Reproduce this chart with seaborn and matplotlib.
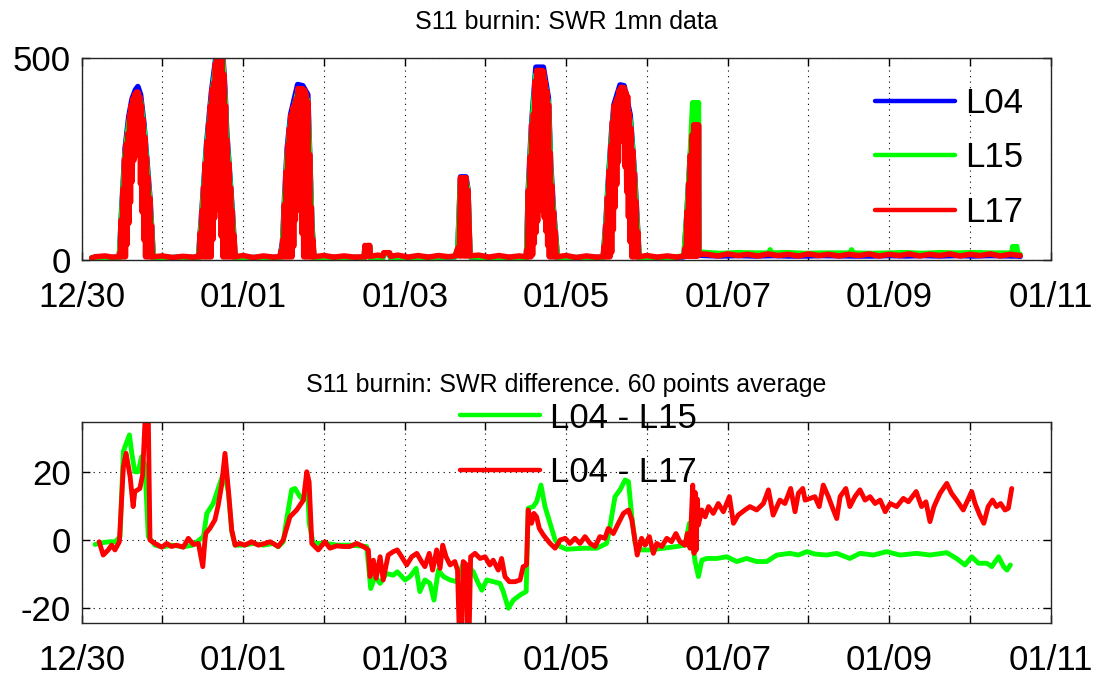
import matplotlib
matplotlib.use("Agg")
import matplotlib.pyplot as plt
import seaborn as sns

# ---------------- data: (hours since 12/30 00:00, value) ----------------
L04_pts = [(3.0, 5), (4.0, 6), (7.0, 6), (11.2, 6),
           (11.9, 124), (12.9, 275), (14.0, 355), (15.0, 400), (16.0, 422), (16.7, 430), (17.5, 410),
           (18.5, 338), (19.5, 235), (20.3, 152), (21.3, 6),
           (25.0, 6), (30.0, 6),
           (34.7, 6), (35.7, 118), (37.1, 285), (38.6, 418), (40.1, 515), (41.9, 515), (42.6, 418),
           (43.1, 318), (44.8, 118), (45.6, 6),
           (50.0, 6), (55.0, 6),
           (58.9, 6), (59.7, 44), (60.4, 170), (61.1, 278), (62.1, 360), (64.2, 435), (65.7, 432),
           (67.2, 410), (68.4, 93), (69.0, 6),
           (75.0, 6), (80.0, 6), (84.0, 6), (84.2, 34), (85.6, 34), (85.8, 6), (89.5, 6), (89.8, 16),
           (91.5, 16), (91.8, 6), (100.0, 6), (105.0, 7), (111.0, 8), (111.8, 28), (112.6, 206),
           (114.2, 206), (114.8, 175), (115.4, 8), (120.0, 6), (126.0, 6),
           (132.2, 6), (132.7, 168), (133.7, 335), (135.0, 478), (137.2, 478), (138.7, 402),
           (139.4, 235), (140.2, 127), (141.4, 6),
           (145.0, 6), (150.0, 6),
           (155.0, 6), (155.8, 94), (156.5, 194), (157.5, 318), (158.2, 385), (160.0, 434),
           (161.2, 432), (163.0, 360), (163.6, 293), (164.4, 202), (165.1, 94), (165.7, 6),
           (170.0, 6), (175.0, 6), (179.0, 8), (179.8, 105), (180.8, 248), (181.6, 336), (183.3, 336),
           (183.4, 12), (186.0, 11), (190.0, 10), (195.0, 11), (200.0, 10), (205.5, 11), (210.0, 10),
           (215.0, 10), (220.0, 11), (229.5, 10), (235.0, 10), (240.0, 11), (245.0, 10), (250.0, 11),
           (255.0, 10), (260.0, 11), (265.0, 10), (270.0, 11), (276.5, 10), (278.1, 10), (278.9, 9)]

L15_pts = [(3.0, 5), (4.0, 6), (7.0, 6), (11.2, 6),
           (11.9, 115), (12.9, 262), (14.0, 340), (15.0, 385), (16.0, 405), (16.7, 410), (17.5, 395),
           (18.5, 325), (19.5, 222), (20.3, 140), (21.3, 6),
           (25.0, 6), (30.0, 6),
           (34.7, 6), (35.7, 108), (37.1, 272), (38.6, 400), (40.1, 500), (41.9, 500), (42.6, 400),
           (43.1, 305), (44.8, 108), (45.6, 6),
           (50.0, 6), (55.0, 6),
           (58.9, 6), (59.7, 36), (60.4, 155), (61.1, 262), (62.1, 345), (64.2, 415), (65.7, 415),
           (67.2, 395), (68.4, 85), (69.0, 6),
           (75.0, 6), (80.0, 6), (84.0, 6), (84.2, 34), (85.6, 34), (85.8, 6), (89.5, 6), (89.8, 16),
           (91.5, 16), (91.8, 6), (100.0, 6), (105.0, 7), (111.0, 8), (111.8, 28), (112.6, 200),
           (114.2, 200), (114.8, 170), (115.4, 8), (120.0, 6), (126.0, 6),
           (132.2, 6), (132.7, 155), (133.7, 320), (135.0, 460), (137.2, 460), (138.7, 388),
           (139.4, 222), (140.2, 115), (141.4, 6),
           (145.0, 6), (150.0, 6),
           (155.0, 6), (155.8, 85), (156.5, 182), (157.5, 305), (158.2, 372), (160.0, 420),
           (161.2, 420), (163.0, 345), (163.6, 282), (164.4, 190), (165.1, 85), (165.7, 6),
           (170.0, 6), (175.0, 6), (179.0, 10), (179.8, 105), (180.8, 248), (181.6, 390), (181.8, 340),
           (182.0, 390), (182.2, 340), (182.4, 390), (182.6, 340), (182.8, 390), (183.0, 340),
           (183.3, 390), (183.4, 20),
           (186.0, 18), (190.0, 16), (195.0, 18), (200.0, 17), (204.4, 17), (204.6, 25), (204.9, 17),
           (210.0, 18), (215.0, 16), (220.0, 17), (228.6, 17), (228.8, 25), (229.1, 17), (235.0, 16),
           (240.0, 17), (245.0, 18), (250.0, 16), (255.0, 18), (260.0, 17), (265.0, 18), (270.0, 17),
           (276.5, 17), (276.7, 33), (277.9, 33), (278.1, 16), (278.9, 14)]

L17_pts = [(3.0, 5), (4.0, 8), (7.0, 10), (9.0, 7),
           # day 12/30 hump
           (11.0, 8), (11.25, 16), (11.5, 8), (11.75, 99), (12.0, 8), (12.25, 176), (12.5, 8),
           (12.75, 250), (13.0, 8), (13.25, 288), (13.5, 39), (13.75, 314), (14.0, 91), (14.25, 361),
           (14.5, 143), (14.75, 384), (15.0, 195), (15.25, 400), (15.5, 247), (15.75, 410),
           (16.0, 299), (16.25, 416), (16.5, 328), (16.75, 416), (17.0, 259), (17.25, 405),
           (17.5, 189), (17.75, 383), (18.0, 119), (18.25, 348), (18.5, 50), (18.75, 305),
           (19.0, 8), (19.25, 255), (19.5, 8), (19.75, 205), (20.0, 8), (20.25, 154), (20.5, 8),
           (20.75, 86), (21.0, 8), (21.3, 8),
           (24.0, 10), (27.0, 6), (30.0, 9), (33.0, 7),
           # day 12/31 hump
           (34.5, 8), (34.75, 13), (35.0, 8), (35.25, 67), (35.5, 8), (35.75, 122), (36.0, 8),
           (36.25, 181), (36.5, 8), (36.75, 240), (37.0, 8), (37.25, 294), (37.5, 8), (37.75, 338),
           (38.0, 8), (38.25, 382), (38.5, 8), (38.75, 423), (39.0, 51), (39.25, 439), (39.5, 104),
           (39.75, 487), (40.0, 158), (40.25, 510), (40.5, 187), (40.75, 510), (41.0, 123),
           (41.25, 510), (41.5, 59), (41.75, 510), (42.0, 8), (42.25, 461), (42.5, 8), (42.75, 383),
           (43.0, 8), (43.25, 297), (43.5, 8), (43.75, 239), (44.0, 8), (44.25, 180), (44.5, 8),
           (44.75, 122), (45.0, 8), (45.25, 62), (45.6, 8),
           (48.0, 11), (51.0, 6), (54.0, 10), (57.0, 7),
           # day 01/01 hump
           (58.5, 8), (58.75, 8), (59.0, 8), (59.25, 22), (59.5, 8), (59.75, 50), (60.0, 8),
           (60.25, 138), (60.5, 8), (60.75, 219), (61.0, 8), (61.25, 285), (61.5, 8), (61.75, 326),
           (62.0, 8), (62.25, 360), (62.5, 8), (62.75, 377), (63.0, 34), (63.25, 385), (63.5, 99),
           (63.75, 400), (64.0, 164), (64.25, 425), (64.5, 180), (64.75, 425), (65.0, 122),
           (65.25, 425), (65.5, 66), (65.75, 424), (66.0, 8), (66.25, 421), (66.5, 8), (66.75, 411),
           (67.0, 8), (67.25, 392), (67.5, 8), (67.75, 262), (68.0, 8), (68.25, 131), (68.5, 8),
           (68.75, 50), (69.0, 8),
           (72.0, 11), (75.0, 7), (78.0, 10), (81.0, 7), (84.0, 8), (84.2, 36), (84.6, 8), (85.0, 36),
           (85.6, 36), (85.8, 9), (88.0, 12), (89.5, 10), (89.8, 18), (91.5, 18), (91.8, 9),
           (94.0, 12), (97.0, 7), (100.0, 11), (103.0, 7), (106.0, 11), (109.0, 8), (111.0, 10),
           (111.8, 30), (112.2, 10), (112.6, 204), (113.0, 10), (113.4, 204), (113.8, 10),
           (114.2, 204), (114.5, 10), (114.8, 173), (115.4, 10),
           (118.0, 12), (121.0, 7), (124.0, 11), (127.0, 7), (130.0, 10),
           # day 01/04 hump
           (132.0, 8), (132.25, 24), (132.5, 8), (132.75, 173), (133.0, 8), (133.25, 256),
           (133.5, 8), (133.75, 335), (134.0, 13), (134.25, 362), (134.5, 41), (134.75, 443),
           (135.0, 68), (135.25, 470), (135.5, 96), (135.75, 470), (136.0, 123), (136.25, 470),
           (136.5, 150), (136.75, 470), (137.0, 140), (137.25, 468), (137.5, 105), (137.75, 443),
           (138.0, 71), (138.25, 419), (138.5, 36), (138.75, 385), (139.0, 8), (139.25, 266),
           (139.5, 8), (139.75, 184), (140.0, 8), (140.25, 119), (140.5, 8), (140.75, 71),
           (141.0, 8), (141.4, 8),
           (144.0, 11), (147.0, 6), (150.0, 10), (153.0, 7),
           # day 01/05 hump
           (155.0, 8), (155.25, 34), (155.5, 8), (155.75, 86), (156.0, 8), (156.25, 155), (156.5, 8),
           (156.75, 221), (157.0, 8), (157.25, 283), (157.5, 19), (157.75, 343), (158.0, 75),
           (158.25, 383), (158.5, 131), (158.75, 393), (159.0, 187), (159.25, 403), (159.5, 243),
           (159.75, 421), (160.0, 299), (160.25, 428), (160.5, 355), (160.75, 428), (161.0, 293),
           (161.25, 427), (161.5, 231), (161.75, 416), (162.0, 169), (162.25, 406), (162.5, 107),
           (162.75, 365), (163.0, 45), (163.25, 326), (163.5, 8), (163.75, 272), (164.0, 8),
           (164.25, 215), (164.5, 8), (164.75, 145), (165.0, 8), (165.25, 70), (165.5, 8),
           (165.7, 8),
           (168.0, 11), (171.0, 7), (174.0, 10), (177.0, 7),
           # 01/06 spike
           (179.0, 10), (179.4, 30), (179.6, 10), (179.9, 120), (180.1, 10), (180.4, 190), (180.6, 10),
           (180.9, 260), (181.1, 10), (181.4, 310), (181.6, 10), (181.9, 335), (182.1, 10),
           (182.4, 335), (182.6, 10), (182.9, 335), (183.1, 10), (183.3, 335), (183.4, 15),
           (186.0, 14), (189.0, 10), (192.0, 15), (195.0, 11), (198.0, 14), (201.0, 10), (204.0, 15),
           (207.0, 11), (210.0, 14), (213.0, 10), (216.0, 15), (219.0, 11), (222.0, 14), (225.0, 10),
           (228.0, 14), (231.0, 11), (234.0, 15), (237.0, 10), (240.0, 14), (243.0, 11), (246.0, 15),
           (249.0, 10), (252.0, 14), (255.0, 11), (258.0, 15), (261.0, 10), (264.0, 14), (267.0, 11),
           (270.0, 15), (273.0, 10), (276.0, 14), (278.9, 11)]

d15_hours = [4.0, 6.0, 8.4, 10.0, 11.4, 12.4, 14.2, 14.9, 15.8, 16.8, 17.8, 18.8, 19.8, 21.8, 24.0,
             27.0, 30.0, 33.0, 36.2, 37.2, 39.1, 41.1, 42.3, 43.6, 44.6, 45.6, 48.0, 51.0, 54.0, 57.0,
             58.4, 59.9, 60.9, 62.4, 63.4, 64.9, 65.9, 67.1, 67.6, 68.8, 72.6, 76.0, 80.0, 84.7, 85.9,
             87.2, 88.7, 90.6, 92.6, 93.8, 96.1, 97.6, 99.4, 100.5, 102.0, 103.5, 104.7, 106.0, 107.5,
             109.5, 111.4, 113.2, 114.9, 116.4, 117.4, 118.9, 120.4, 122.3, 124.3, 125.3, 126.8, 128.3,
             130.3, 132.1, 132.7, 134.2, 135.2, 136.5, 137.7, 139.2, 140.7, 142.2, 144.1, 149.1, 153.1,
             156.0, 157.0, 158.5, 160.0, 161.5, 162.5, 163.5, 164.5, 166.4, 168.9, 172.9, 176.8, 179.3,
             180.6, 181.3, 182.3, 183.3, 184.3, 185.8, 188.7, 191.7, 194.7, 197.6, 200.6, 203.6, 206.6,
             210.5, 213.0, 215.5, 217.9, 221.4, 224.4, 228.3, 231.3, 235.3, 239.2, 243.2, 248.2, 252.1,
             257.1, 260.0, 262.5, 264.5, 266.5, 269.0, 270.5, 271.5, 272.5, 274.0, 275.0, 276.0]
d15 = [-1.3, -0.8, -0.5, -0.5, 1.0, 26, 30.8, 25.4, 20, 20, 24.4, 22, 1, -1.5, -2,
       -1.5, -2, -1.5, 1, 7.8, 10.7, 16.6, 20, 14, 2.5, -1.5, -1.5, -1, -1.5, -1,
       -2, -0.5, 5.9, 14.7, 15.1, 12.7, 11.7, 16.6, 5, -1, -1, -1.5, -1.5, -1.9, -14.2,
       -10.7, -12.7, -9.8, -10.3, -9.3, -11.7, -10.7, -8.3, -15.1, -11.7, -12.7, -17.6, -8.8, -10.7,
       -11.7, -12.2, -7.3, -7.8, -9.3, -11.7, -14.7, -11.7, -12.2, -12.7, -15.1, -20, -17.6,
       -16.1, -15.1, 9.3, 9.8, 11.2, 16.1, 9.8, 4.9, 0, -1.9, -2.7, -2.4, -2.4,
       -1, 3.9, 12.7, 14.7, 17.6, 17.1, 6.8, -1, -2.9, -2.9, -2.4, -1.9, -1.5,
       4.9, 1, -6.3, -10.7, -5.9, -5.4, -5.4, -4.9, -6.3, -5.4, -6.3, -6.3, -4.4,
       -3.9, -4.4, -3.4, -4.1, -4.4, -3.9, -5.4, -3.9, -4.4, -3.4, -4.4, -3.9, -4.4,
       -3.7, -5.4, -7.3, -4.9, -6.8, -6.8, -7.8, -6.3, -4.9, -7.8, -8.8, -7.3]

d17_hours = [5.2, 6.4, 7.9, 8.9, 9.9, 11.2, 12.4, 13.2, 14.4, 15.3, 15.8, 17.3, 18.1, 18.8, 19.4, 19.8,
             20.3, 21.8, 23.8, 25.3, 26.7, 28.2, 30.2, 31.7, 33.2, 34.7, 36.0, 36.6, 36.9, 38.1, 39.6,
             40.6, 41.6, 42.6, 43.6, 44.6, 45.6, 47.0, 48.5, 50.5, 52.5, 54.5, 56.0, 58.4, 59.9, 61.9,
             63.9, 65.9, 66.9, 67.6, 68.4, 70.3, 72.3, 73.8, 75.8, 77.7, 79.7, 81.7, 83.7, 85.2, 85.7,
             86.7, 87.5, 88.7, 89.6, 91.1, 92.6, 93.8, 95.1, 96.6, 98.1, 99.6, 101.0, 102.0, 103.3,
             104.3, 105.5, 106.5, 107.3, 108.3, 109.5, 110.9, 111.7, 112.3, 112.9, 113.4, 114.4, 114.7,
             115.1, 115.6, 116.9, 118.4, 119.9, 121.3, 122.3, 123.8, 124.8, 125.8, 127.1, 128.8, 130.3,
             131.2, 132.2, 132.7, 133.7, 134.4, 135.2, 136.0, 137.2, 139.2, 140.7, 142.2, 143.7, 145.1,
             146.6, 148.1, 149.6, 151.1, 152.6, 154.0, 155.5, 156.5, 158.0, 159.5, 161.0, 162.5, 163.5,
             164.5, 165.1, 166.4, 167.4, 168.7, 169.9, 170.9, 172.4, 173.9, 175.3, 176.6, 177.8, 179.3,
             180.0, 180.8, 181.6, 182.0, 182.3, 182.6, 183.0, 183.3, 184.3, 185.3, 186.3, 187.7, 189.2,
             190.7, 192.5, 193.7, 195.1, 197.1, 198.6, 200.6, 202.6, 204.1, 205.5, 207.5, 209.0, 210.7,
             212.0, 213.0, 214.3, 215.0, 216.5, 217.9, 219.2, 220.4, 221.9, 223.2, 224.4, 225.4, 227.1,
             228.3, 229.8, 231.3, 232.8, 234.3, 235.8, 237.3, 238.8, 240.3, 242.2, 244.2, 245.7, 248.0,
             249.6, 250.9, 252.1, 253.3, 255.1, 257.1, 258.5, 260.0, 262.0, 264.5, 265.5, 266.9, 268.1,
             269.4, 270.7, 271.9, 273.1, 274.4, 275.4, 276.4]
d17 = [-0.5, -4.4, -2.9, -1.5, -2.9, -0.5, 21.5, 25.4, 18.6, 9.8, 14.2, 15.1, 19, 34.2, 38, 36,
       0, -1, -2.1, -1, -1.9, -1.5, -2.1, 0.5, -1.3, -1, -7.8, -0.5, 2, 3.4, 5.9,
       10.3, 16.1, 25.4, 14.7, 2.9, -1.5, -1, -1.5, -0.5, -1.5, -1, -0.5, -1.9, 0, 6.8,
       8.8, 11.7, 20, 17, -1, -2.9, -0.5, -2.4, -1.7, -1.9, -1.9, -1, -1.9, -2.9, -10.7,
       -5.9, -11.2, -4.9, -11.7, -4.4, -3.4, -2.9, -4.9, -7.3, -4.9, -3.9, -6.3, -7.8, -3.9,
       -8.8, -2.9, -8.3, -1.5, -4.9, -7.3, -6.3, -8.8, -30, -30, -6.3, -7.3, -30,
       -30, -4.9, -3.9, -5.4, -4.9, -7.3, -5.9, -8.8, -5.4, -10.7, -12.2, -12.2, -11.7,
       -7.8, -7.3, 8.8, 4.9, 7.8, 6.8, 3.4, 1.5, -1, -2.4, 0, 0.5, -1,
       0.5, -1, 1, -1, -1.9, 1, 0.5, 3.4, 1.9, 4.9, 7.8, 8.8, 5.9,
       -0.5, -4.4, 0.5, -1.5, 1, -3.9, -1, -1.9, 0.5, -0.5, 1.9, -0.5, -1.5,
       1.9, -2.4, 16.1, -3.9, 14, -3, 12, 4.4, 8.8, 6.8, 9.8, 7.8, 10.7,
       8.3, 12.7, 4.9, 7.3, 8.8, 9.8, 8.8, 10.7, 14.7, 7.3, 11.7, 10.7, 15.1,
       8.3, 13.7, 15.1, 11.7, 12.2, 12.7, 9.8, 16.1, 12.7, 9.3, 6.3, 12.7, 15.1,
       9.8, 12.7, 14.7, 11.7, 12.7, 10.7, 11.7, 8.3, 10.7, 9.8, 12.2, 11.2, 14.2,
       9.8, 11.2, 5.4, 9.8, 13.7, 16.6, 13.7, 11.7, 8.8, 14.2, 10.7, 7.3, 4.9,
       9.8, 11.7, 9.8, 10.7, 8.8, 9.3, 15.1]

tick_hours = [0, 24, 48, 72, 96, 120, 144, 168, 192, 216, 240, 264, 288]
tick_labels = ['12/30', '', '01/01', '', '01/03', '', '01/05', '', '01/07', '', '01/09', '', '01/11']

# ---------------- plotting ----------------
sns.set_theme(style="white")
plt.rcParams['font.family'] = ['Liberation Sans', 'DejaVu Sans']
plt.rcParams['axes.unicode_minus'] = False
plt.rcParams['text.color'] = 'black'
plt.rcParams['path.simplify'] = False

fig = plt.figure(figsize=(11.02, 6.79), dpi=100)
ax1 = fig.add_axes([0.0741, 0.6171, 0.8794, 0.2970])
ax2 = fig.add_axes([0.0741, 0.0820, 0.8794, 0.2961])

LW_TOP = 4.0
LW_BOT = 3.5
for pts, col, lab in ((L04_pts, (0, 0, 1), 'L04'),
                      (L15_pts, (0, 1, 0), 'L15'),
                      (L17_pts, (1, 0, 0), 'L17')):
    t, v = zip(*pts)
    sns.lineplot(x=list(t), y=list(v), ax=ax1, color=col, linewidth=LW_TOP, label=lab,
                 estimator=None, sort=False)

sns.lineplot(x=d15_hours, y=d15, ax=ax2, color=(0, 1, 0), linewidth=LW_BOT, label='L04 - L15',
             estimator=None, sort=False)
sns.lineplot(x=d17_hours, y=d17, ax=ax2, color=(1, 0, 0), linewidth=LW_BOT, label='L04 - L17',
             estimator=None, sort=False)

ax1.set_ylim(0, 500)
ax1.set_yticks([0, 500])
ax2.set_ylim(-24.4, 34.5)
ax2.set_yticks([-20, 0, 20])

for ax in (ax1, ax2):
    ax.set_xlim(0, 288)
    ax.set_xticks(tick_hours)
    ax.set_xticklabels(tick_labels)
    ax.set_xlabel('')
    ax.set_ylabel('')
    ax.grid(True, which='major', color='black', linestyle=(0, (1, 4)), linewidth=0.8)
    ax.tick_params(direction='in', length=6, width=1, top=True, right=True,
                   labelsize=25, colors='black', bottom=True, left=True)
    ax.tick_params(axis='x', pad=15)
    ax.tick_params(axis='y', pad=8)
    for s in ax.spines.values():
        s.set_color('#262626')
        s.set_linewidth(1.0)

ax1.set_title('S11 burnin: SWR 1mn data', fontsize=18, pad=21, color='black')
ax2.set_title('S11 burnin: SWR difference. 60 points average', fontsize=18, pad=22, color='black')

leg1 = ax1.legend(loc='upper left', bbox_to_anchor=(0.8187, 0.859), frameon=False, fontsize=25,
                  handlelength=2.3, handletextpad=0.3, labelspacing=0.62, borderpad=0,
                  borderaxespad=0)
leg2 = ax2.legend(loc='upper left', bbox_to_anchor=(0.3904, 1.103), frameon=False, fontsize=25,
                  handlelength=2.3, handletextpad=0.3, labelspacing=0.62, borderpad=0,
                  borderaxespad=0)
for h in leg1.get_lines() + leg2.get_lines():
    h.set_linewidth(3.2)

fig.savefig('out.png', dpi=100)
